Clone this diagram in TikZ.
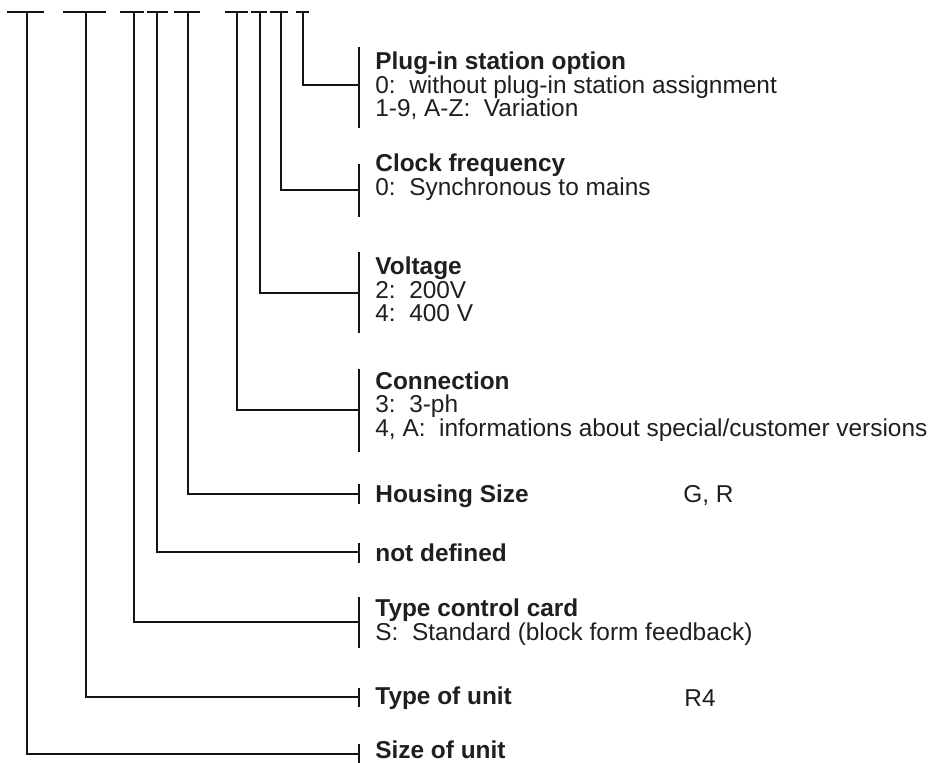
\documentclass[tikz,border=0pt]{standalone}
\usepackage{fontspec}
\setmainfont{Liberation Sans}
\begin{document}
\begin{tikzpicture}[x=0.5pt,y=-0.5pt,
  ln/.style={line width=1.25pt, black!92, line join=miter},
  lbl/.style={anchor=west, align=left, inner sep=0pt, font=\fontsize{12.2}{11.8}\selectfont, text=black!88}]
\useasboundingbox (0,0) rectangle (928,763);

% code underline ticks (tops of the branches)
\foreach \n/\x/\a/\b in {s/27/7/44, u/86/63/106, c/134/120/144, d/157/147/168, h/188/174/200, n/237/225/248, v/260/251/267, f/281/270/288, p/303/296/309} {
  \coordinate (t\n) at (\x,12);
  \draw[ln] (\a,12) -- (\b,12);
}

% bracket points
\coordinate (bp) at (359,85);
\coordinate (bf) at (359,190);
\coordinate (bv) at (359,293);
\coordinate (bn) at (359,410);
\coordinate (bh) at (359,494);
\coordinate (bd) at (359,552);
\coordinate (bc) at (359,622);
\coordinate (bu) at (359,697);
\coordinate (bs) at (359,754);

% branches
\draw[ln] (tp) |- (bp);
\draw[ln] (tf) |- (bf);
\draw[ln] (tv) |- (bv);
\draw[ln] (tn) |- (bn);
\draw[ln] (th) |- (bh);
\draw[ln] (td) |- (bd);
\draw[ln] (tc) |- (bc);
\draw[ln] (tu) |- (bu);
\draw[ln] (ts) |- (bs);

% brackets
\draw[ln] (359,47) -- (359,128);
\draw[ln] (359,164) -- (359,217);
\draw[ln] (359,252) -- (359,333);
\draw[ln] (359,369) -- (359,452);
\draw[ln] (359,484) -- (359,504);
\draw[ln] (359,543) -- (359,563);
\draw[ln] (359,597) -- (359,648);
\draw[ln] (359,688) -- (359,707);
\draw[ln] (359,744) -- (359,764);

% labels
\node[lbl] (plug) at (375,86) {\textbf{Plug-in station option}\\0:\ \ without plug-in station assignment\\1-9, A-Z:\ \ Variation};
\node[lbl] (clock) at (375,177) {\textbf{Clock frequency}\\0:\ \ Synchronous to mains};
\node[lbl] (volt) at (375,289.5) {\textbf{Voltage}\\2:\ \ 200V\\4:\ \ 400 V};
\node[lbl] (conn) at (375,406.5) {\textbf{Connection}\\3:\ \ 3-ph\\4, A:\ \ informations about special/customer versions};
\node[lbl] (house) at (375,496) {\textbf{Housing Size}};
\node[lbl] (houseval) at (683,496) {G, R};
\node[lbl] (notdef) at (375,553) {\textbf{not defined}};
\node[lbl] (card) at (375,622) {\textbf{Type control card}\\S:\ \ Standard (block form feedback)};
\node[lbl] (unit) at (375,698) {\textbf{Type of unit}};
\node[lbl] (unitval) at (684,698) {R4};
\node[lbl] (size) at (375,750) {\textbf{Size of unit}};
\end{tikzpicture}
\end{document}
